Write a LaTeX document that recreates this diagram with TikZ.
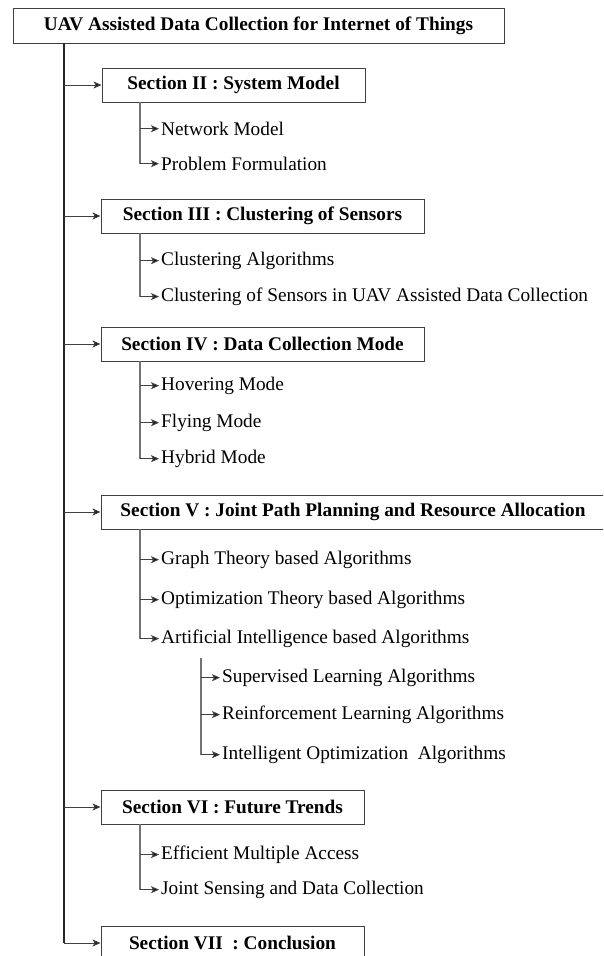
\documentclass[tikz,border=0pt]{standalone}
\usepackage{fontspec}
\setmainfont{Liberation Serif}
\usetikzlibrary{arrows.meta}
\begin{document}
\begin{tikzpicture}[x=1pt,y=-1pt,
  secbox/.style={draw=black!75, line width=0.9pt, minimum height=34pt, inner sep=0pt,
                 font=\fontsize{19.3}{22}\selectfont\bfseries},
  item/.style={anchor=mid west, inner sep=0pt, font=\fontsize{19.3}{22}\selectfont},
  trunk/.style={draw=black!85, line width=1.7pt},
  branch/.style={draw=black!55, line width=1.3pt},
  link/.style={draw=black!75, line width=0.9pt, shorten >=2pt,
               -{Stealth[length=8pt,width=7pt,inset=2pt,fill=black!90]}},
]
\clip (0,0) rectangle (603,956);
\fill[white] (0,0) rectangle (603,956);

% title and section boxes
\node[secbox, minimum width=491pt, minimum height=35pt] (root) at (258.5,25.5)
  {UAV Assisted Data Collection for Internet of Things};
\node[secbox, minimum width=263pt] (s2) at (233.5,85)  {Section II : System Model};
\node[secbox, minimum width=323pt] (s3) at (262.5,216) {Section III : Clustering of Sensors};
\node[secbox, minimum width=323pt] (s4) at (262.5,344) {Section IV : Data Collection Mode};
\node[secbox, minimum width=504pt] (s5) at (353,512)   {Section V : Joint Path Planning and Resource Allocation};
\node[secbox, minimum width=263pt] (s6) at (232.5,807) {Section VI : Future Trends};
\node[secbox, minimum width=263pt] (s7) at (232.5,943) {Section VII~ : Conclusion};

% topic items
\node[item] (nm)  at (161,133) {Network Model};
\node[item] (pf)  at (161,168) {Problem Formulation};
\node[item] (ca)  at (161,263) {Clustering Algorithms};
\node[item] (cs)  at (161,299) {Clustering of Sensors in UAV Assisted Data Collection};
\node[item] (hov) at (161,388) {Hovering Mode};
\node[item] (fly) at (161,425) {Flying Mode};
\node[item] (hyb) at (161,461) {Hybrid Mode};
\node[item] (gt)  at (161,562) {Graph Theory based Algorithms};
\node[item] (ot)  at (161,602) {Optimization Theory based Algorithms};
\node[item] (ai)  at (161,641) {Artificial Intelligence based Algorithms};
\node[item] (sl)  at (222,680) {Supervised Learning Algorithms};
\node[item] (rl)  at (222,717) {Reinforcement Learning Algorithms};
\node[item] (io)  at (222,757) {Intelligent Optimization~ Algorithms};
\node[item] (em)  at (161,857) {Efficient Multiple Access};
\node[item] (js)  at (161,892) {Joint Sensing and Data Collection};

% trunk positions
\coordinate (mt) at (64,43);
\coordinate (bx) at (140,0);
\coordinate (ai0) at (201,658);

% main trunk
\draw[trunk] (mt) -- (mt |- s7.west);
\foreach \s in {s2,s3,s4,s5,s6,s7}
  \draw[link, shorten >=0pt] (mt |- \s.west) -- (\s.west);

% section branches
\draw[branch] (s2.south -| bx) -- (bx |- pf.west);
\draw[branch] (s3.south -| bx) -- (bx |- cs.west);
\draw[branch] (s4.south -| bx) -- (bx |- hyb.west);
\draw[branch] (s5.south -| bx) -- (bx |- ai.west);
\draw[branch] (s6.south -| bx) -- (bx |- js.west);
\draw[branch] (ai0) -- (ai0 |- io.west);

\foreach \t in {nm,pf,ca,cs,hov,fly,hyb,gt,ot,ai,em,js}
  \draw[link] (bx |- \t.west) -- (\t.west);
\foreach \t in {sl,rl,io}
  \draw[link] (ai0 |- \t.west) -- (\t.west);
\end{tikzpicture}
\end{document}
